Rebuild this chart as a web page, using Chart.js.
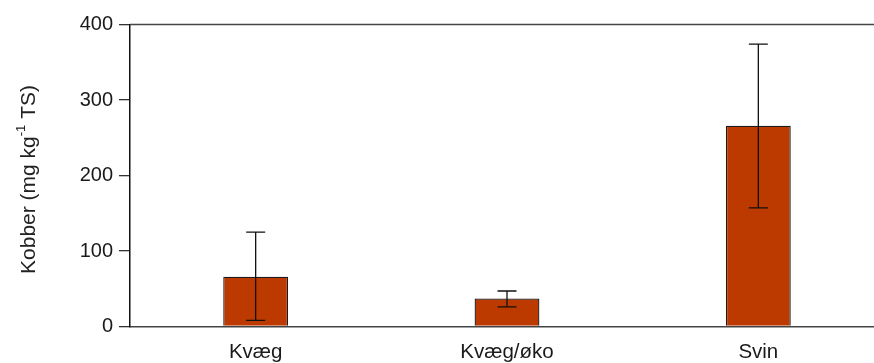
<!DOCTYPE html>
<html>
<head>
<meta charset="utf-8">
<script src="https://cdn.jsdelivr.net/npm/chart.js@4/dist/chart.umd.min.js"></script>
<style>
  html, body { margin: 0; padding: 0; background: #fff; overflow: hidden; }
  #wrap { position: relative; width: 890px; height: 363px; }
</style>
</head>
<body>
<div id="wrap"><canvas id="c"></canvas></div>
<script>
// Copper content per manure type
const categories = ['Kvæg', 'Kvæg/øko', 'Svin'];
const means = [66, 37, 266];
const errLow = [8, 26, 157];
const errHigh = [125, 47, 374];
const yTicks = [0, 100, 200, 300, 400];

const FONT = '"Liberation Sans", Arial, sans-serif';

// Axis title with a superscript exponent
const yTitlePlugin = {
  id: 'yTitle',
  afterDraw(chart) {
    const { ctx, chartArea } = chart;
    const parts = [
      { t: 'Kobber (mg kg', size: 21, dy: 0 },
      { t: '-1', size: 13, dy: -8 },
      { t: ' TS)', size: 21, dy: 0 }
    ];
    ctx.save();
    let total = 0;
    parts.forEach(p => { ctx.font = p.size + 'px ' + FONT; p.w = ctx.measureText(p.t).width; total += p.w; });
    const cy = (chartArea.top + chartArea.bottom) / 2 + 4;
    ctx.translate(29, cy);
    ctx.rotate(-Math.PI / 2);
    ctx.fillStyle = '#222';
    ctx.textBaseline = 'middle';
    ctx.textAlign = 'left';
    let x = -total / 2;
    parts.forEach(p => {
      ctx.font = p.size + 'px ' + FONT;
      ctx.fillText(p.t, x, p.dy);
      x += p.w;
    });
    ctx.restore();
  }
};

// Top frame line at the axis maximum
const frameTopPlugin = {
  id: 'frameTop',
  afterDraw(chart) {
    const { ctx, chartArea } = chart;
    ctx.save();
    ctx.strokeStyle = '#444';
    ctx.lineWidth = 1.5;
    ctx.beginPath();
    ctx.moveTo(chartArea.left, chartArea.top);
    ctx.lineTo(chartArea.right + 10, chartArea.top);
    ctx.stroke();
    ctx.restore();
  }
};

// Error bars from the low/high arrays
const errorBarPlugin = {
  id: 'errorBars',
  afterDatasetsDraw(chart) {
    const { ctx } = chart;
    const meta = chart.getDatasetMeta(0);
    const y = chart.scales.y;
    ctx.save();
    ctx.strokeStyle = '#111';
    ctx.lineWidth = 1.3;
    meta.data.forEach((bar, i) => {
      const x = bar.x;
      const yl = y.getPixelForValue(errLow[i]);
      const yh = y.getPixelForValue(errHigh[i]);
      const hw = 9.5;
      ctx.beginPath();
      ctx.moveTo(x, yl); ctx.lineTo(x, yh);
      ctx.moveTo(x - hw, yl); ctx.lineTo(x + hw, yl);
      ctx.moveTo(x - hw, yh); ctx.lineTo(x + hw, yh);
      ctx.stroke();
    });
    ctx.restore();
  }
};

new Chart(document.getElementById('c'), {
  type: 'bar',
  data: {
    labels: categories,
    datasets: [{
      data: means,
      backgroundColor: '#BC3A00',
      borderColor: '#1a1a1a',
      borderWidth: 1.3,
      categoryPercentage: 1,
      barPercentage: 0.258
    }]
  },
  options: {
    responsive: true,
    maintainAspectRatio: false,
    animation: false,
    events: [],
    layout: { padding: { top: 24.5, right: 6, left: 0, bottom: 0 } },
    plugins: { legend: { display: false }, tooltip: { enabled: false } },
    scales: {
      x: {
        grid: { display: false },
        border: { display: true, color: '#444', width: 1.5 },
        ticks: { color: '#1a1a1a', font: { family: FONT, size: 20.5 }, padding: 6 },
        afterFit(scale) { scale.height = 36.5; }
      },
      y: {
        min: 0,
        max: 400,
        afterBuildTicks(scale) { scale.ticks = yTicks.map(v => ({ value: v })); },
        grid: { display: true, drawOnChartArea: false, drawTicks: true, tickLength: 11, color: '#333', lineWidth: 1.3 },
        border: { display: true, color: '#111', width: 1.5 },
        ticks: { color: '#1a1a1a', font: { family: FONT, size: 20 }, padding: 6 },
        afterFit(scale) { scale.width = 130; }
      }
    }
  },
  plugins: [yTitlePlugin, frameTopPlugin, errorBarPlugin]
});
</script>
</body>
</html>
